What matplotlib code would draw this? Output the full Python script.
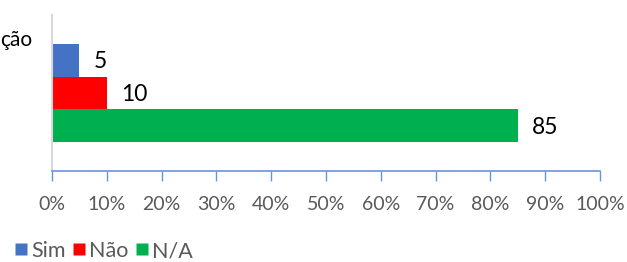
import matplotlib
matplotlib.use("Agg")
import matplotlib.pyplot as plt
from matplotlib.lines import Line2D

plt.rcParams['font.family'] = ['Lato', 'DejaVu Sans']

category = "ção"
series = ["Sim", "Não", "N/A"]
values = [5, 10, 85]
colors = ["#4472C4", "#FF0000", "#00B050"]
ticks = [0, 10, 20, 30, 40, 50, 60, 70, 80, 90, 100]
tick_labels = [f"{t}%" for t in ticks]

fig = plt.figure(figsize=(6.27, 2.62), dpi=100)
ax = fig.add_axes([52/627, 1-171/262, (600-52)/627, (171-15)/262])

h = 0.209
offsets = [h, 0, -h]
for v, c, o in zip(values, colors, offsets):
    ax.barh(o, v, height=h, color=c)
    ax.text(v + 2.6, o - 0.01, str(v), va='center', ha='left', fontsize=16.5, color='black')

ax.set_xlim(0, 100)
ax.set_ylim(-0.5, 0.5)
ax.set_xticks(ticks)
ax.set_xticklabels(tick_labels, fontsize=14, color='#595959')
ax.tick_params(axis='x', direction='out', length=7, width=1, color='#6A93D8', pad=11)
ax.set_yticks([])
for s in ['top', 'right']:
    ax.spines[s].set_visible(False)
ax.spines['bottom'].set_color('#6A93D8')
ax.spines['bottom'].set_linewidth(1.2)
ax.spines['left'].set_color('#D9D9D9')
ax.spines['left'].set_linewidth(1.5)

fig.text(0, 1-40/262, category, ha='left', va='center', fontsize=15, color='black')

handles = [Line2D([], [], linestyle='none', marker='s', markersize=8.5,
                  markerfacecolor=c, markeredgecolor='none') for c in colors]
leg = fig.legend(handles, series, loc='center left', bbox_to_anchor=(16/627, 1-251/262), ncol=3,
                 frameon=False, fontsize=15.5, handlelength=0.45,
                 handletextpad=0.25, columnspacing=0.4, borderaxespad=0, borderpad=0)
for t in leg.get_texts():
    t.set_color('#595959')

fig.savefig("out.png", dpi=100)
